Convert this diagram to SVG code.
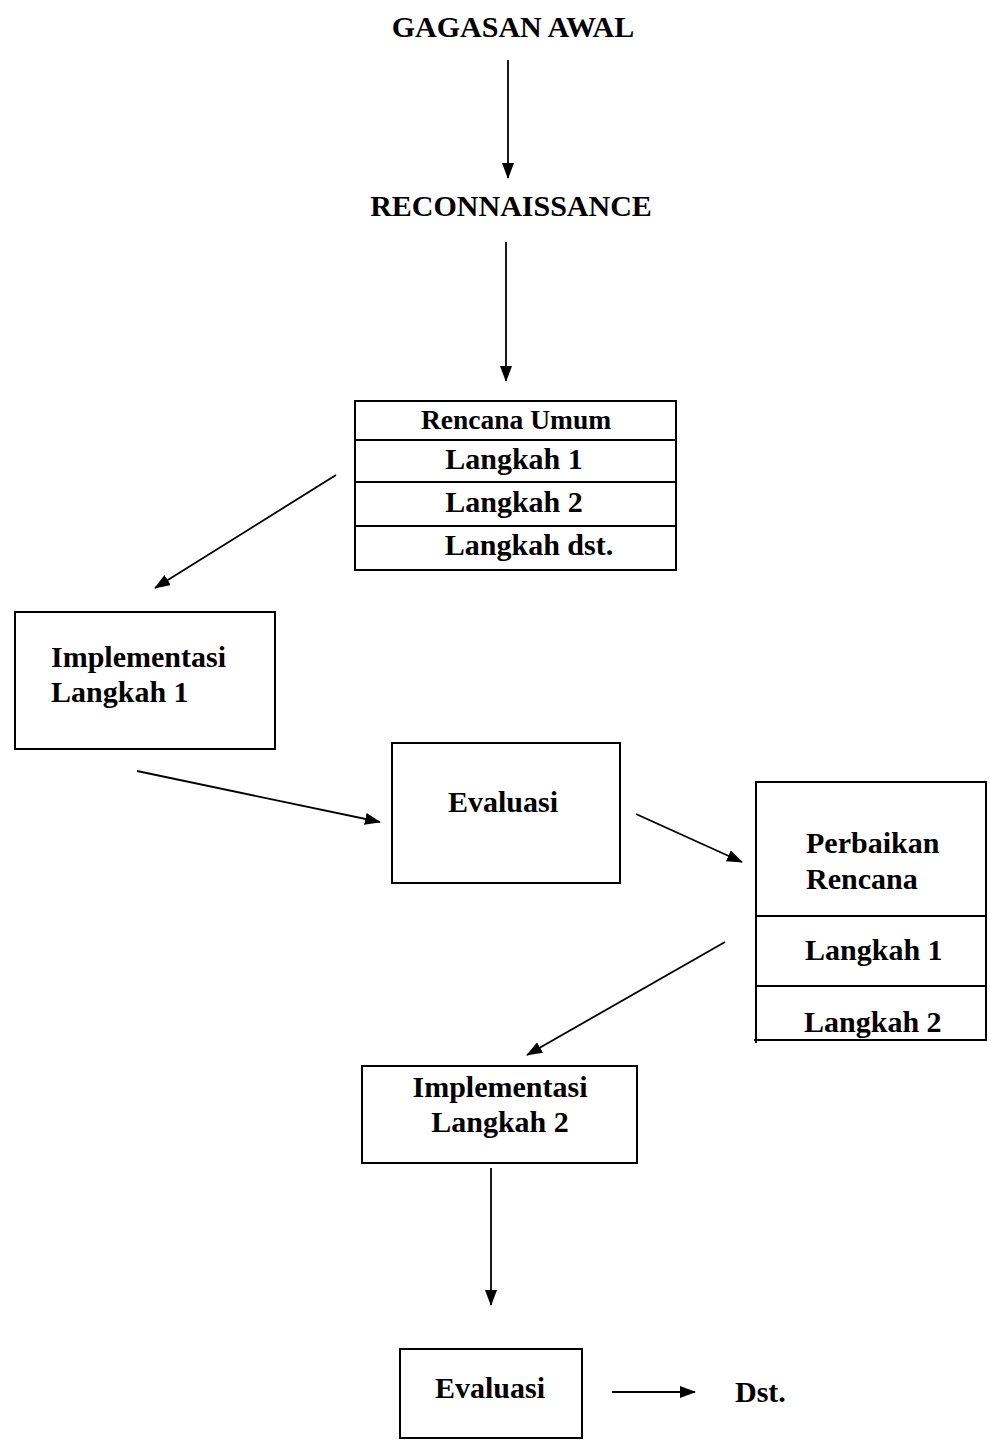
<svg xmlns="http://www.w3.org/2000/svg" width="989" height="1440" viewBox="0 0 989 1440">
<style>
text{font-family:"Liberation Serif","Times New Roman",serif;font-weight:bold;fill:#000}
.t{font-size:30px}
.s{font-size:27.5px}
.c{text-anchor:middle}
.box{fill:none;stroke:#000;stroke-width:2}
.ln{stroke:#000;stroke-width:1.8;fill:none;marker-end:url(#ah)}
</style>
<defs>
<marker id="ah" markerWidth="16" markerHeight="12" refX="15" refY="6" orient="auto" markerUnits="userSpaceOnUse">
<path d="M0,0 L16,6 L0,12 Z" fill="#000"/>
</marker>
</defs>
<rect width="989" height="1440" fill="#fff"/>
<g id="gagasan"><text class="t c" x="513" y="37">GAGASAN AWAL</text></g>
<g id="recon"><text class="t c" x="511" y="216">RECONNAISSANCE</text></g>
<g id="rencana">
<rect class="box" x="355" y="401" width="321" height="169"/>
<line class="box" x1="355" y1="440" x2="676" y2="440"/>
<line class="box" x1="355" y1="482" x2="676" y2="482"/>
<line class="box" x1="355" y1="526" x2="676" y2="526"/>
<text class="s c" x="516" y="429">Rencana Umum</text>
<text class="t c" x="514" y="469">Langkah 1</text>
<text class="t c" x="514" y="512">Langkah 2</text>
<text class="t c" x="529" y="555">Langkah dst.</text>
</g>
<g id="impl1">
<rect class="box" x="15" y="612" width="260" height="137"/>
<text class="t" x="51" y="667">Implementasi</text>
<text class="t" x="51" y="702">Langkah 1</text>
</g>
<g id="eval1">
<rect class="box" x="392" y="743" width="228" height="140"/>
<text class="t c" x="503" y="812">Evaluasi</text>
</g>
<g id="perbaikan">
<polyline class="box" points="756,1043 756,782 986,782 986,1040 754,1040"/>
<line class="box" x1="756" y1="916" x2="986" y2="916"/>
<line class="box" x1="756" y1="986" x2="986" y2="986"/>
<text class="t" x="806" y="853">Perbaikan</text>
<text class="t" x="806" y="889">Rencana</text>
<text class="t" x="805" y="960">Langkah 1</text>
<text class="t" x="804" y="1032">Langkah 2</text>
</g>
<g id="impl2">
<rect class="box" x="362" y="1066" width="275" height="97"/>
<text class="t c" x="500" y="1097">Implementasi</text>
<text class="t c" x="500" y="1132">Langkah 2</text>
</g>
<g id="eval2">
<rect class="box" x="400" y="1349" width="182" height="89"/>
<text class="t c" x="490" y="1398">Evaluasi</text>
</g>
<g id="dst"><text class="t" x="735" y="1402">Dst.</text></g>
<g id="connectors">
<line class="ln" x1="508" y1="60" x2="508" y2="178"/>
<line class="ln" x1="506" y1="242" x2="506" y2="381"/>
<line class="ln" x1="336" y1="475" x2="155" y2="588"/>
<line class="ln" x1="137" y1="771" x2="380" y2="822"/>
<line class="ln" x1="636" y1="814" x2="742" y2="862"/>
<line class="ln" x1="725" y1="942" x2="527" y2="1055"/>
<line class="ln" x1="491" y1="1168" x2="491" y2="1305"/>
<line class="ln" x1="612" y1="1392" x2="695" y2="1392"/>
</g>
</svg>
